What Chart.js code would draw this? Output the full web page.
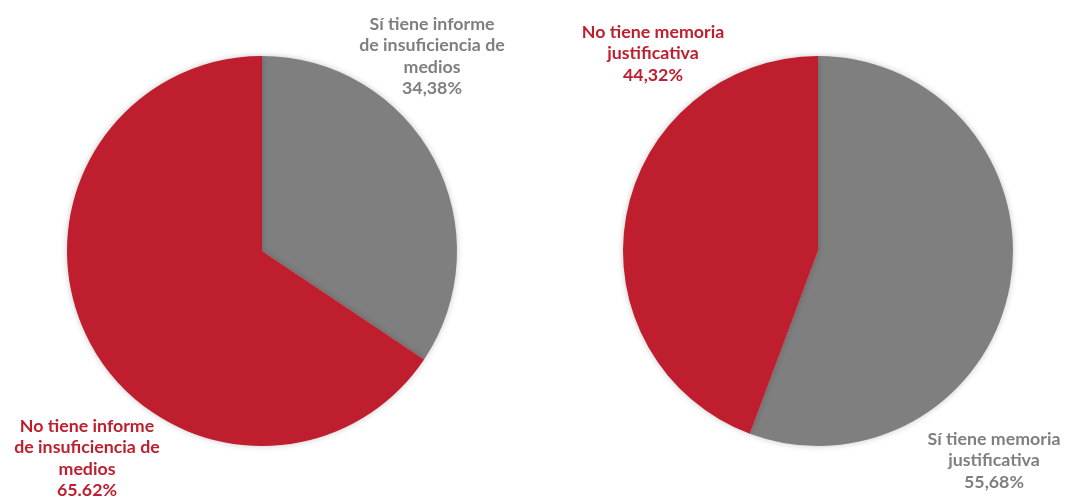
<!DOCTYPE html>
<html><head><meta charset="utf-8">
<script src="https://cdn.jsdelivr.net/npm/chart.js@4"></script>
<style>
html,body{margin:0;padding:0;background:#fff;width:1065px;height:498px;overflow:hidden}
.box{position:absolute;top:0;height:498px}
</style></head><body>
<div class="box" style="left:0;width:532px"><canvas id="c1"></canvas></div>
<div class="box" style="left:532px;width:533px"><canvas id="c2"></canvas></div>
<script>
const GRAY = '#7f7f7f', RED = '#be1e2d';
const informeLabels = ['Sí tiene informe de insuficiencia de medios', 'No tiene informe de insuficiencia de medios'];
const informeValues = [34.38, 65.62];
const informeText = [['Sí tiene informe','de insuficiencia de','medios','34,38%'], ['No tiene informe','de insuficiencia de','medios','65.62%']];
const memoriaLabels = ['Sí tiene memoria justificativa', 'No tiene memoria justificativa'];
const memoriaValues = [55.68, 44.32];
const memoriaText = [['Sí tiene memoria','justificativa','55,68%'], ['No tiene memoria','justificativa','44,32%']];

const FONT = 'bold 17.8px Lato';
function labelPlugin(items){
  return {
    id:'lbl',
    afterDraw(chart){
      const ctx = chart.ctx;
      ctx.save();
      ctx.font = FONT;
      ctx.textAlign = 'center';
      ctx.textBaseline = 'middle';
      items.forEach(it=>{
        ctx.fillStyle = it.color;
        it.lines.forEach((l,i)=>ctx.fillText(l, it.x, it.y + i*21.5));
      });
      ctx.restore();
    }
  };
}
const shadow = {
  id:'shadow',
  beforeDatasetsDraw(chart){ const c=chart.ctx; c.save(); c.shadowColor='rgba(0,0,0,0.22)'; c.shadowBlur=6; c.shadowOffsetX=0; c.shadowOffsetY=0; },
  afterDatasetsDraw(chart){ chart.ctx.restore(); }
};
function make(id, labels, values, pad, items){
  new Chart(document.getElementById(id), {
    type:'pie',
    data:{labels, datasets:[{data:values, backgroundColor:[GRAY, RED], borderWidth:0, hoverOffset:0}]},
    options:{
      responsive:true, maintainAspectRatio:false, animation:false,
      layout:{padding:pad},
      plugins:{legend:{display:false}, tooltip:{enabled:false}}
    },
    plugins:[shadow, labelPlugin(items)]
  });
}
make('c1', informeLabels, informeValues, {left:67, right:75, top:56, bottom:52}, [
  {x:432, y:24, color:GRAY, lines:informeText[0]},
  {x:87, y:426, color:RED, lines:informeText[1]}
]);
make('c2', memoriaLabels, memoriaValues, {left:91, right:52, top:56, bottom:52}, [
  {x:653-532, y:32, color:RED, lines:memoriaText[1]},
  {x:994-532, y:439, color:GRAY, lines:memoriaText[0]}
]);
</script></body></html>
